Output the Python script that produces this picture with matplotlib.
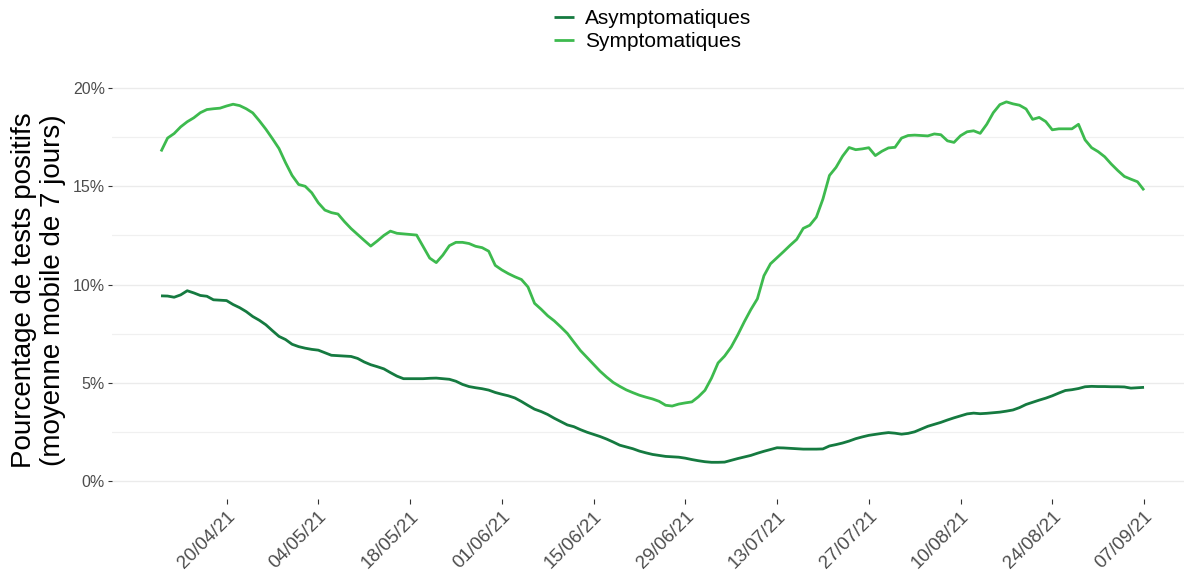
import matplotlib
matplotlib.use("Agg")
import matplotlib.pyplot as plt
import matplotlib.dates as mdates
import matplotlib.ticker as mticker
import numpy as np
import datetime as dt

plt.rcParams['font.family'] = ['Liberation Sans', 'DejaVu Sans']

start_date = dt.date(2021, 4, 10)
n_days = 151

asymptomatiques = [
    9.43, 9.42, 9.36, 9.48, 9.69, 9.58, 9.45, 9.41, 9.23, 9.21,
    9.19, 8.99, 8.83, 8.63, 8.38, 8.19, 7.96, 7.66, 7.37, 7.21,
    6.97, 6.85, 6.77, 6.71, 6.67, 6.54, 6.41, 6.39, 6.37, 6.35,
    6.25, 6.07, 5.93, 5.83, 5.72, 5.53, 5.35, 5.22, 5.22, 5.22,
    5.22, 5.24, 5.25, 5.22, 5.19, 5.09, 4.93, 4.82, 4.76, 4.71,
    4.64, 4.52, 4.43, 4.35, 4.24, 4.06, 3.86, 3.67, 3.55, 3.40,
    3.21, 3.04, 2.87, 2.78, 2.63, 2.50, 2.39, 2.28, 2.15, 2.00,
    1.84, 1.75, 1.66, 1.54, 1.45, 1.37, 1.32, 1.27, 1.25, 1.23,
    1.18, 1.11, 1.05, 1.00, 0.97, 0.97, 0.98, 1.07, 1.16, 1.24,
    1.32, 1.43, 1.53, 1.62, 1.71, 1.70, 1.68, 1.66, 1.64, 1.64,
    1.64, 1.65, 1.80, 1.87, 1.95, 2.05, 2.17, 2.26, 2.34, 2.39,
    2.44, 2.48, 2.45, 2.40, 2.44, 2.52, 2.66, 2.80, 2.90, 3.00,
    3.12, 3.23, 3.33, 3.43, 3.47, 3.44, 3.46, 3.49, 3.52, 3.57,
    3.63, 3.75, 3.91, 4.02, 4.13, 4.23, 4.35, 4.49, 4.62, 4.66,
    4.72, 4.81, 4.83, 4.82, 4.82, 4.81, 4.81, 4.80, 4.74, 4.76,
    4.78,
]

symptomatiques = [
    16.77, 17.45, 17.68, 18.02, 18.28, 18.48, 18.74, 18.90, 18.94, 18.97,
    19.08, 19.17, 19.10, 18.94, 18.73, 18.33, 17.90, 17.42, 16.92, 16.20,
    15.55, 15.09, 15.00, 14.67, 14.16, 13.79, 13.66, 13.59, 13.20, 12.85,
    12.55, 12.25, 11.96, 12.22, 12.50, 12.72, 12.61, 12.58, 12.55, 12.52,
    11.93, 11.35, 11.12, 11.50, 11.98, 12.15, 12.15, 12.09, 11.95, 11.88,
    11.70, 10.98, 10.75, 10.56, 10.40, 10.26, 9.88, 9.05, 8.75, 8.42,
    8.16, 7.85, 7.52, 7.08, 6.65, 6.30, 5.95, 5.60, 5.30, 5.03,
    4.83, 4.65, 4.51, 4.38, 4.28, 4.19, 4.07, 3.87, 3.83, 3.93,
    3.99, 4.04, 4.30, 4.63, 5.25, 6.02, 6.37, 6.83, 7.44, 8.11,
    8.73, 9.28, 10.45, 11.06, 11.37, 11.68, 12.00, 12.30, 12.86, 13.02,
    13.43, 14.35, 15.55, 15.96, 16.53, 16.97, 16.86, 16.90, 16.96, 16.56,
    16.78, 16.95, 16.98, 17.45, 17.58, 17.60, 17.58, 17.56, 17.66, 17.62,
    17.31, 17.23, 17.57, 17.77, 17.82, 17.69, 18.15, 18.74, 19.15, 19.29,
    19.19, 19.12, 18.93, 18.40, 18.50, 18.29, 17.87, 17.92, 17.92, 17.92,
    18.15, 17.36, 16.96, 16.76, 16.50, 16.13, 15.80, 15.50, 15.36, 15.23,
    14.80,
]

tick_dates = ["20/04/21", "04/05/21", "18/05/21", "01/06/21", "15/06/21", "29/06/21",
              "13/07/21", "27/07/21", "10/08/21", "24/08/21", "07/09/21"]
y_ticks = [0, 5, 10, 15, 20]
series_names = ["Asymptomatiques", "Symptomatiques"]
colors = ["#157a40", "#3dba4e"]

dates = [start_date + dt.timedelta(days=i) for i in range(n_days)]
dates_num = mdates.date2num(dates)

W, H = 1184, 574
fig = plt.figure(figsize=(W / 100, H / 100), dpi=100)
left, right, top, bottom = 112, 1184, 82, 498.7
ax = fig.add_axes([left / W, 1 - bottom / H, (right - left) / W, (bottom - top) / H])

for name, vals, c in zip(series_names, [asymptomatiques, symptomatiques], colors):
    ax.plot(dates_num, vals, color=c, lw=2.0, label=name, solid_capstyle='butt')

d0 = mdates.date2num(start_date)
ax.set_xlim(d0 - 7.48, d0 + 156.1)
ax.set_ylim(-0.88, 20.3)

for s in ax.spines.values():
    s.set_visible(False)

ax.set_yticks(y_ticks)
ax.set_yticklabels([f"{v}%" for v in y_ticks])
ax.yaxis.set_minor_locator(mticker.FixedLocator([2.5, 7.5, 12.5, 17.5]))
ax.grid(axis='y', which='major', color='#ebebeb', lw=1.0)
ax.grid(axis='y', which='minor', color='#f0f0f0', lw=0.9)
ax.grid(axis='x', visible=False)
ax.set_axisbelow(True)

tick_nums = [mdates.date2num(dt.datetime.strptime(t, "%d/%m/%y").date()) for t in tick_dates]
ax.set_xticks(tick_nums)
ax.set_xticklabels(tick_dates, rotation=45, ha='right', va='top', rotation_mode='anchor')

ax.tick_params(axis='y', which='major', length=3, width=0.8, color='#333333',
               labelsize=11.5, labelcolor='#4d4d4d', pad=2)
ax.tick_params(axis='y', which='minor', length=0)
ax.tick_params(axis='x', which='major', length=3.5, width=0.8, color='#333333',
               labelsize=13.5, labelcolor='#4d4d4d', pad=3)

ax.set_ylabel("Pourcentage de tests positifs\n(moyenne mobile de 7 jours)",
              fontsize=20, color='black', labelpad=5, linespacing=1.15)

fig.legend(loc='upper left', bbox_to_anchor=(554 / W, 1 - 9 / H), frameon=False,
           fontsize=15, handlelength=0.95, handletextpad=0.55, labelspacing=0.2,
           borderpad=0, borderaxespad=0)

fig.savefig("out.png", dpi=100, facecolor='white')
